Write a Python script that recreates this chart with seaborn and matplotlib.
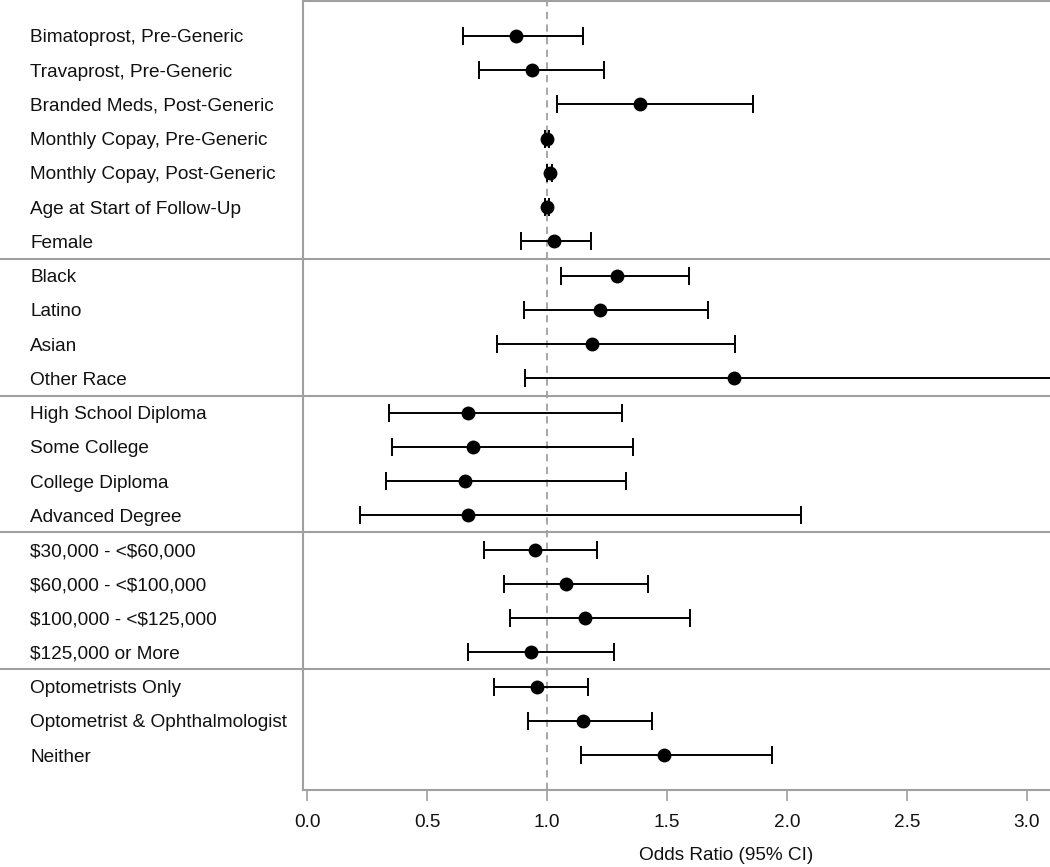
import pandas as pd
import matplotlib.pyplot as plt
import seaborn as sns

labels = [
    "Bimatoprost, Pre-Generic", "Travaprost, Pre-Generic", "Branded Meds, Post-Generic",
    "Monthly Copay, Pre-Generic", "Monthly Copay, Post-Generic", "Age at Start of Follow-Up",
    "Female", "Black", "Latino", "Asian", "Other Race",
    "High School Diploma", "Some College", "College Diploma", "Advanced Degree",
    r"\$30,000 - <\$60,000", r"\$60,000 - <\$100,000", r"\$100,000 - <\$125,000", r"\$125,000 or More",
    "Optometrists Only", "Optometrist & Ophthalmologist", "Neither",
]
odds = [0.872, 0.939, 1.389, 1.000, 1.012, 1.000, 1.030, 1.292, 1.221, 1.189, 1.779,
        0.672, 0.690, 0.660, 0.671, 0.951, 1.078, 1.158, 0.932, 0.957, 1.151, 1.487]
ci_low = [0.651, 0.715, 1.042, 0.990, 1.002, 0.990, 0.890, 1.060, 0.903, 0.793, 0.908,
          0.343, 0.355, 0.329, 0.221, 0.739, 0.822, 0.847, 0.671, 0.780, 0.921, 1.140]
ci_high = [1.151, 1.236, 1.858, 1.010, 1.022, 1.010, 1.182, 1.590, 1.670, 1.785, 3.500,
           1.311, 1.358, 1.328, 2.058, 1.207, 1.421, 1.596, 1.279, 1.169, 1.437, 1.936]
group_breaks = [6.5, 10.5, 14.5, 18.5]

df = pd.DataFrame({"label": labels, "odds": odds, "lo": ci_low, "hi": ci_high})
df["row"] = range(len(df))

sns.set_style("white")
plt.rcParams["font.family"] = ["Liberation Sans", "DejaVu Sans"]

W, H = 1050, 867
fig = plt.figure(figsize=(W / 100, H / 100), dpi=100)
ax = fig.add_axes([303 / W, 1 - 790 / H, 1 - 303 / W, 789 / H])

grey = "#a0a0a0"
fs = 13.7
ax.axvline(1.0, color=grey, lw=1.3, ls=(0, (4, 3)), zorder=1)
for b in group_breaks:
    ax.axhline(b, xmin=-303 / 747, xmax=1, color=grey, lw=1.5, clip_on=False, zorder=1)

ax.errorbar(df["odds"], df["row"], xerr=[df["odds"] - df["lo"], df["hi"] - df["odds"]],
            fmt="none", ecolor="black", elinewidth=1.4, capsize=6.5, capthick=1.4, zorder=2)
sns.scatterplot(data=df, x="odds", y="row", color="black", s=100, edgecolor="black",
                linewidth=0, zorder=3, ax=ax)

ax.set_xlim(-0.0167, 3.096)
ax.set_ylim(22.02, -1.02)
ax.set_xticks([0, 0.5, 1.0, 1.5, 2.0, 2.5, 3.0])
ax.set_xticklabels(["0.0", "0.5", "1.0", "1.5", "2.0", "2.5", "3.0"])
ax.set_yticks(df["row"])
ax.set_yticklabels(df["label"], ha="left")
ax.tick_params(axis="y", left=False, length=0, pad=273 * 0.72, labelsize=fs,
               labelcolor="#111111")
ax.tick_params(axis="x", bottom=True, length=8, width=1.2, color=grey, pad=9,
               labelsize=fs, labelcolor="#111111")

ax.set_xlabel("Odds Ratio (95% CI)", fontsize=fs, color="#111111")
ax.set_ylabel("")
ax.xaxis.label.set_va("center")
ax.xaxis.set_label_coords(0.566, -66 / 789)

for side in ["left", "top", "bottom"]:
    ax.spines[side].set_color(grey)
    ax.spines[side].set_linewidth(1.5)
ax.spines["right"].set_visible(False)

fig.savefig("out.png", dpi=100)
